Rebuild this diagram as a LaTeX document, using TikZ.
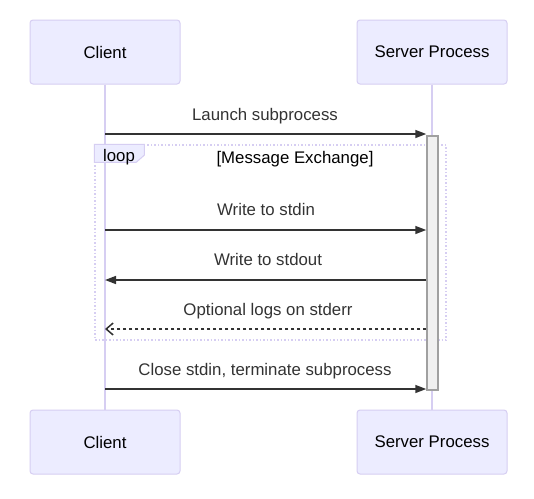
\documentclass[tikz,border=0pt]{standalone}
\usepackage{fontspec}
\setmainfont{Liberation Sans}
\usepackage{tikz}
\usetikzlibrary{
  arrows.meta,
  positioning
}
\definecolor{ActorFill}{RGB}{236, 236, 255}
\definecolor{ActorLine}{RGB}{214, 206, 242}
\definecolor{MsgGray}{RGB}{51, 51, 51}
\definecolor{ActFill}{RGB}{240, 240, 240}
\definecolor{ActLine}{RGB}{160, 160, 160}
\tikzset{
    actor/.style={rectangle, draw=ActorLine, fill=ActorFill, rounded corners=3pt,
        line width=1pt, minimum width=150pt, minimum height=64pt,
        font=\fontsize{16.8}{20}\selectfont, text=black},
    lifeline/.style={draw=ActorLine, line width=1.3pt},
    msg/.style={draw=MsgGray, line width=1.5pt, -{Triangle[length=11pt,width=8pt]}},
    retmsg/.style={draw=MsgGray, line width=1.5pt, dash pattern=on 3pt off 3pt,
        -{Straight Barb[length=7pt,width=12pt,line width=1.5pt]}},
    msglabel/.style={font=\fontsize{16.8}{20}\selectfont, text=MsgGray, anchor=base},
}

\begin{document}
\begin{tikzpicture}[x=1pt, y=-1pt]
    \useasboundingbox[fill=white] (0,0) rectangle (534,498);

    % actors
    \node[actor] (clientTop) at (105,52) {Client};
    \node[actor] (serverTop) at (432,52) {Server Process};
    \node[actor] (clientBot) at (105,442) {Client};
    \node[actor] (serverBot) at (432,442) {Server Process};

    % lifelines
    \draw[lifeline] (clientTop.south) -- (clientBot.north);
    \draw[lifeline] (serverTop.south) -- (serverBot.north);

    % loop frame
    \node[draw=ActorLine, line width=1.5pt, dotted, minimum width=351pt, minimum height=195pt,
        inner sep=0pt] (loopbox) at (270.5,242.5) {};
    \draw[draw=ActorLine, fill=ActorFill, line width=1pt]
        (loopbox.north west) -- ++(50,0) -- ++(0,11) -- ++(-8,7) -- ++(-42,0) -- cycle;
    \node[msglabel, text=black] (looplabel) at (119,161) {loop};
    \node[msglabel, text=black] (loopcond) at (295,163) {[Message Exchange]};

    % activation
    \node[rectangle, draw=ActLine, fill=ActFill, line width=1.5pt, minimum width=11pt,
        minimum height=254pt, inner sep=0pt] (act) at (432.5,263) {};

    % messages
    \coordinate (m1) at (0,134);
    \coordinate (m2) at (0,230);
    \coordinate (m3) at (0,280);
    \coordinate (m4) at (0,329);
    \coordinate (m5) at (0,389);
    \draw[msg] (clientTop |- m1) -- (act.west |- m1);
    \draw[msg] (clientTop |- m2) -- (act.west |- m2);
    \draw[msg] (act.west |- m3) -- (clientTop |- m3);
    \draw[retmsg] (act.west |- m4) -- (clientTop |- m4);
    \draw[msg] (clientTop |- m5) -- (act.west |- m5);

    \node[msglabel] (l1) at (265,120) {Launch subprocess};
    \node[msglabel] (l2) at (266,215) {Write to stdin};
    \node[msglabel] (l3) at (268,265) {Write to stdout};
    \node[msglabel] (l4) at (268,315) {Optional logs on stderr};
    \node[msglabel] (l5) at (265,375) {Close stdin, terminate subprocess};
\end{tikzpicture}
\end{document}
